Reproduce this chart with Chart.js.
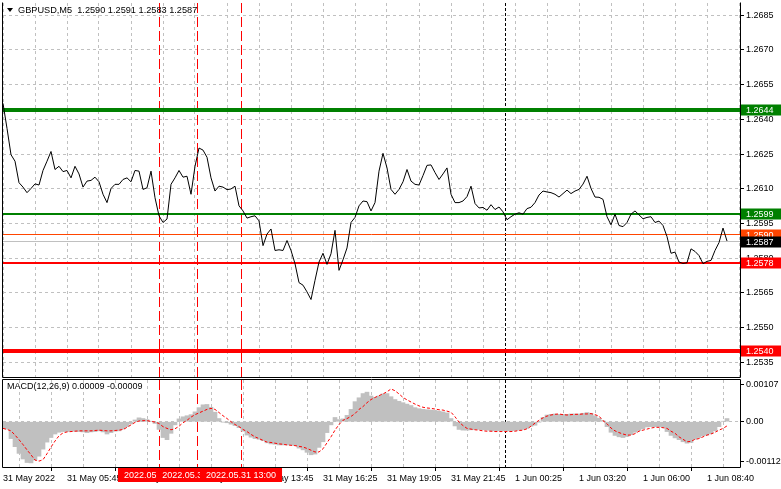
<!DOCTYPE html>
<html>
<head>
<meta charset="utf-8">
<script src="https://cdn.jsdelivr.net/npm/chart.js@4.4.0/dist/chart.umd.min.js"></script>
<style>
html, body { margin: 0; padding: 0; background: #fff; }
#wrap { position: relative; width: 781px; height: 489px; overflow: hidden; background: #fff; }
canvas { position: absolute; left: 0; }
#priceChart { top: 0; }
#macdChart { top: 379px; }
</style>
</head>
<body>
<div id="wrap">
  <canvas id="priceChart" width="781" height="379"></canvas>
  <canvas id="macdChart" width="781" height="110"></canvas>
</div>
<script>
// GBPUSD M5, one value every 2 bars (10 min), first one 31 May 03:05
const priceClose = [
  1.26469, 1.26361, 1.26247, 1.26219, 1.26126, 1.26107, 1.26083, 1.26101, 1.26121, 1.26116,
  1.26179, 1.26219, 1.26261, 1.26183, 1.26197, 1.26174, 1.26179, 1.26147, 1.26197, 1.26164,
  1.26107, 1.26133, 1.26136, 1.26150, 1.26130, 1.26076, 1.26040, 1.26101, 1.26119, 1.26119,
  1.26140, 1.26147, 1.26130, 1.26179, 1.26176, 1.26097, 1.26104, 1.26176, 1.26061, 1.25983,
  1.25954, 1.25969, 1.26119, 1.26147, 1.26179, 1.26150, 1.26154, 1.26076, 1.26197, 1.26276,
  1.26267, 1.26236, 1.26147, 1.26090, 1.26111, 1.26107, 1.26096, 1.26099, 1.26111, 1.26026,
  1.26004, 1.25973, 1.25979, 1.25983, 1.25961, 1.25854, 1.25904, 1.25926, 1.25833, 1.25836,
  1.25833, 1.25876, 1.25833, 1.25776, 1.25694, 1.25683, 1.25654, 1.25621, 1.25704, 1.25783,
  1.25821, 1.25773, 1.25819, 1.25920, 1.25747, 1.25793, 1.25844, 1.25954, 1.25976, 1.26026,
  1.26047, 1.26044, 1.26004, 1.26040, 1.26176, 1.26253, 1.26190, 1.26097, 1.26076, 1.26097,
  1.26130, 1.26183, 1.26133, 1.26119, 1.26116, 1.26157, 1.26201, 1.26203, 1.26170, 1.26140,
  1.26164, 1.26190, 1.26076, 1.26040, 1.26040, 1.26047, 1.26066, 1.26111, 1.26036, 1.26017,
  1.26019, 1.26007, 1.26031, 1.26010, 1.26021, 1.26000, 1.25966, 1.25979, 1.25990, 1.25996,
  1.25990, 1.26014, 1.26020, 1.26040, 1.26073, 1.26090, 1.26086, 1.26083, 1.26076, 1.26064,
  1.26079, 1.26094, 1.26079, 1.26090, 1.26097, 1.26120, 1.26154, 1.26101, 1.26064, 1.26063,
  1.26054, 1.25979, 1.25944, 1.25990, 1.25941, 1.25936, 1.25954, 1.25990, 1.26004, 1.25987,
  1.25970, 1.25976, 1.25979, 1.25954, 1.25960, 1.25941, 1.25893, 1.25821, 1.25826, 1.25783,
  1.25777, 1.25780, 1.25840, 1.25829, 1.25811, 1.25776, 1.25786, 1.25790, 1.25833, 1.25867,
  1.25930, 1.25874
];

const macdHist = [
  -0.00019, -0.00021, -0.00048, -0.00071, -0.00090, -0.00106, -0.00116, -0.00117, -0.00109, -0.00098,
  -0.00078, -0.00058, -0.00045, -0.00035, -0.00030, -0.00028, -0.00028, -0.00027, -0.00027, -0.00028,
  -0.00029, -0.00031, -0.00029, -0.00028, -0.00026, -0.00029, -0.00035, -0.00031, -0.00027, -0.00026,
  -0.00021, -0.00014, -0.00006, 0.00005, 0.00011, 0.00009, 0.00006, 0.00001, -0.00005, -0.00022,
  -0.00045, -0.00051, -0.00033, -0.00009, 0.00008, 0.00014, 0.00017, 0.00020, 0.00028, 0.00040,
  0.00048, 0.00049, 0.00041, 0.00027, 0.00009, -0.00001, -0.00003, -0.00007, -0.00011, -0.00017,
  -0.00027, -0.00038, -0.00044, -0.00048, -0.00050, -0.00054, -0.00060, -0.00063, -0.00064, -0.00066,
  -0.00066, -0.00066, -0.00066, -0.00068, -0.00075, -0.00080, -0.00087, -0.00094, -0.00092, -0.00073,
  -0.00057, -0.00031, -0.00009, 0.00012, 0.00006, 0.00008, 0.00018, 0.00035, 0.00057, 0.00068,
  0.00080, 0.00084, 0.00073, 0.00069, 0.00073, 0.00079, 0.00080, 0.00071, 0.00063, 0.00058,
  0.00054, 0.00050, 0.00046, 0.00040, 0.00037, 0.00035, 0.00034, 0.00033, 0.00032, 0.00030,
  0.00028, 0.00025, 0.00009, -0.00012, -0.00022, -0.00024, -0.00024, -0.00023, -0.00022, -0.00022,
  -0.00023, -0.00024, -0.00026, -0.00026, -0.00026, -0.00026, -0.00026, -0.00026, -0.00025, -0.00024,
  -0.00022, -0.00019, -0.00013, -0.00010, -0.00001, 0.00012, 0.00019, 0.00021, 0.00022, 0.00021,
  0.00021, 0.00021, 0.00022, 0.00022, 0.00022, 0.00024, 0.00026, 0.00024, 0.00017, 0.00010,
  0.00003, -0.00014, -0.00030, -0.00039, -0.00043, -0.00045, -0.00042, -0.00037, -0.00030, -0.00025,
  -0.00020, -0.00015, -0.00014, -0.00014, -0.00014, -0.00016, -0.00028, -0.00039, -0.00046, -0.00051,
  -0.00057, -0.00061, -0.00059, -0.00050, -0.00045, -0.00040, -0.00038, -0.00034, -0.00026, -0.00014,
  0.00001, 0.00009
];

const macdSignal = [
  -0.00019, -0.00022, -0.00026, -0.00038, -0.00051, -0.00065, -0.00080, -0.00094, -0.00109, -0.00112,
  -0.00108, -0.00091, -0.00072, -0.00055, -0.00040, -0.00032, -0.00029, -0.00028, -0.00027, -0.00026,
  -0.00026, -0.00026, -0.00026, -0.00025, -0.00024, -0.00025, -0.00026, -0.00026, -0.00025, -0.00024,
  -0.00022, -0.00016, -0.00009, -0.00002, 0.00002, 0.00003, 0.00003, 0.00001, -0.00001, -0.00005,
  -0.00014, -0.00019, -0.00023, -0.00020, -0.00013, -0.00003, 0.00004, 0.00013, 0.00020, 0.00025,
  0.00030, 0.00035, 0.00038, 0.00035, 0.00026, 0.00017, 0.00009, 0.00000, -0.00008, -0.00014,
  -0.00022, -0.00028, -0.00036, -0.00043, -0.00048, -0.00053, -0.00058, -0.00059, -0.00061, -0.00063,
  -0.00064, -0.00066, -0.00067, -0.00068, -0.00070, -0.00072, -0.00076, -0.00081, -0.00086, -0.00086,
  -0.00077, -0.00060, -0.00043, -0.00024, -0.00008, 0.00004, 0.00009, 0.00015, 0.00023, 0.00035,
  0.00043, 0.00054, 0.00063, 0.00069, 0.00074, 0.00079, 0.00085, 0.00093, 0.00088, 0.00079,
  0.00069, 0.00062, 0.00056, 0.00050, 0.00045, 0.00041, 0.00039, 0.00038, 0.00036, 0.00034,
  0.00033, 0.00030, 0.00027, 0.00014, -0.00001, -0.00011, -0.00019, -0.00021, -0.00023, -0.00024,
  -0.00026, -0.00027, -0.00027, -0.00028, -0.00028, -0.00028, -0.00028, -0.00028, -0.00027, -0.00025,
  -0.00024, -0.00020, -0.00013, -0.00004, 0.00004, 0.00011, 0.00016, 0.00019, 0.00021, 0.00022,
  0.00020, 0.00019, 0.00020, 0.00021, 0.00021, 0.00022, 0.00022, 0.00023, 0.00020, 0.00016,
  0.00003, -0.00006, -0.00018, -0.00026, -0.00031, -0.00035, -0.00038, -0.00038, -0.00034, -0.00027,
  -0.00024, -0.00021, -0.00018, -0.00016, -0.00016, -0.00017, -0.00019, -0.00027, -0.00033, -0.00043,
  -0.00050, -0.00057, -0.00056, -0.00050, -0.00048, -0.00043, -0.00038, -0.00035, -0.00030, -0.00024,
  -0.00019, -0.00012
];

const timeLabels = ['31 May 2022', '31 May 05:45', '31 May 08:25', '31 May 11:05', '31 May 13:45', '31 May 16:25',
  '31 May 19:05', '31 May 21:45', '1 Jun 00:25', '1 Jun 03:20', '1 Jun 06:00', '1 Jun 08:40'];
const priceTicks = [1.2685, 1.2670, 1.2655, 1.2640, 1.2625, 1.2610, 1.2595, 1.2580, 1.2565, 1.2550, 1.2535];
const macdTicks = [0.00107, 0, -0.00112];

const levelPrices = [1.2644, 1.2599, 1.2590, 1.2587, 1.2578, 1.2540];
const levelStyles = [
  { color: '#008000', width: 4, box: '#008000' },
  { color: '#008000', width: 2, box: '#008000' },
  { color: '#ff4500', width: 1, box: '#ff4500' },
  { color: '#c0c0c0', width: 1, box: '#000000' },
  { color: '#ff0000', width: 2, box: '#ff0000' },
  { color: '#ff0000', width: 4, box: '#ff0000' }
];

// vertical lines, minutes from 31 May 00:00
const markerMinutes = [575, 670, 780];
const markerLabels = ['2022.05.31 09:35', '2022.05.31 11:10', '2022.05.31 13:00'];
const daySeparator = 1440;

const titleText = 'GBPUSD,M5  1.2590 1.2591 1.2583 1.2587';
const macdText = 'MACD(12,26,9) 0.00009 -0.00009';

const FONT = '"Liberation Sans", Arial, sans-serif';
const FSIZE = 9;
const GRID = '#c0c0c0';
const X_MAX = 184.25;

Chart.defaults.font.family = FONT;
Chart.defaults.font.size = FSIZE;
Chart.defaults.color = '#000';

function barOfMinute(m) { return (m - 185) / 10; }

function xTicks(axis) {
  axis.ticks = [];
  for (let v = 0; v <= X_MAX; v += 8) axis.ticks.push({ value: v });
}

const markerPlugin = {
  id: 'markers',
  beforeDatasetsDraw(chart) {
    const { ctx, chartArea: a, scales: { x } } = chart;
    ctx.save();
    ctx.lineWidth = 1;
    ctx.strokeStyle = '#ff0000';
    ctx.setLineDash([10, 4]);
    markerMinutes.forEach(m => {
      const px = Math.round(x.getPixelForValue(barOfMinute(m))) + 0.5;
      ctx.beginPath(); ctx.moveTo(px, a.top); ctx.lineTo(px, a.bottom); ctx.stroke();
    });
    ctx.strokeStyle = '#000';
    ctx.setLineDash([3, 2]);
    const sx = Math.round(x.getPixelForValue(barOfMinute(daySeparator))) + 0.5;
    ctx.beginPath(); ctx.moveTo(sx, a.top); ctx.lineTo(sx, a.bottom); ctx.stroke();
    ctx.restore();
  }
};

function frame(chart, withTop) {
  const { ctx, chartArea: a } = chart;
  ctx.save();
  ctx.strokeStyle = '#000';
  ctx.lineWidth = 1;
  ctx.beginPath();
  if (withTop) { ctx.moveTo(2.5, a.top - 0.5); ctx.lineTo(a.right + 0.5, a.top - 0.5); }
  ctx.moveTo(2.5, a.top - 0.5); ctx.lineTo(2.5, a.bottom + 0.5);
  ctx.lineTo(a.right + 0.5, a.bottom + 0.5); ctx.lineTo(a.right + 0.5, a.top - 0.5);
  ctx.stroke();
  ctx.restore();
}

const pricePlugin = {
  id: 'priceExtras',
  beforeDatasetsDraw(chart) {
    const { ctx, chartArea: a, scales: { y } } = chart;
    ctx.save();
    levelPrices.forEach((p, k) => {
      const st = levelStyles[k];
      let py = y.getPixelForValue(p);
      py = st.width % 2 === 1 ? Math.round(py - 0.5) + 0.5 : Math.round(py);
      ctx.strokeStyle = st.color;
      ctx.lineWidth = st.width;
      ctx.beginPath(); ctx.moveTo(a.left, py); ctx.lineTo(a.right, py); ctx.stroke();
    });
    ctx.restore();
  },
  afterDraw(chart) {
    const { ctx, chartArea: a, scales: { y } } = chart;
    frame(chart, false);
    ctx.save();
    ctx.font = FSIZE + 'px ' + FONT;
    ctx.textBaseline = 'middle';
    levelPrices.forEach((p, k) => {
      const py = Math.round(y.getPixelForValue(p));
      ctx.fillStyle = levelStyles[k].box;
      ctx.fillRect(a.right + 1, py - 5.5, 781 - a.right - 1, 11);
      ctx.fillStyle = '#fff';
      ctx.fillText(p.toFixed(4), a.right + 6, py + 0.5);
    });
    // title
    ctx.fillStyle = '#000';
    ctx.beginPath(); ctx.moveTo(7, 8); ctx.lineTo(13, 8); ctx.lineTo(10, 12); ctx.closePath(); ctx.fill();
    ctx.font = '9.2px ' + FONT;
    ctx.fillText(titleText, 18, 10.5);
    ctx.restore();
  }
};

const macdPlugin = {
  id: 'macdExtras',
  afterDraw(chart) {
    const { ctx, chartArea: a, scales: { x } } = chart;
    frame(chart, true);
    ctx.save();
    ctx.font = FSIZE + 'px ' + FONT;
    ctx.textBaseline = 'middle';
    ctx.fillStyle = '#000';
    ctx.fillText(macdText, 7, 7.5);
    markerMinutes.forEach((m, k) => {
      const px = Math.round(x.getPixelForValue(barOfMinute(m)));
      const w = ctx.measureText(markerLabels[k]).width + 12;
      ctx.fillStyle = '#ff0000';
      ctx.fillRect(px - w / 2, a.bottom + 1, w, 14);
      ctx.fillStyle = '#fff';
      ctx.textAlign = 'center';
      ctx.fillText(markerLabels[k], px, a.bottom + 9);
    });
    ctx.restore();
  }
};

new Chart(document.getElementById('priceChart'), {
  type: 'line',
  data: {
    datasets: [{
      data: priceClose.map((v, i) => ({ x: i, y: v })),
      borderColor: '#000',
      borderWidth: 1,
      pointRadius: 0,
      tension: 0,
      fill: false
    }]
  },
  options: {
    responsive: false,
    animation: false,
    devicePixelRatio: 1,
    events: [],
    layout: { padding: { left: 3, top: 3, right: 0, bottom: 2 } },
    plugins: { legend: { display: false }, tooltip: { enabled: false } },
    scales: {
      x: {
        type: 'linear', min: 0, max: X_MAX,
        afterBuildTicks: xTicks,
        afterFit(s) { s.height = 0; s.paddingLeft = 0; s.paddingRight = 0; },
        ticks: { display: false },
        grid: { color: GRID, lineWidth: 1, drawTicks: false },
        border: { display: false, dash: [3, 3] }
      },
      y: {
        position: 'right',
        min: 1.25286, max: 1.26903,
        afterBuildTicks(axis) { axis.ticks = priceTicks.map(v => ({ value: v })); },
        afterFit(s) { s.width = 41; s.paddingTop = 0; s.paddingBottom = 0; },
        ticks: { padding: 2, callback: v => v.toFixed(4), autoSkip: false, font: { size: FSIZE } },
        grid: { color: GRID, lineWidth: 1, tickLength: 4, tickColor: '#000' },
        border: { display: false, dash: [3, 3] }
      }
    }
  },
  plugins: [markerPlugin, pricePlugin]
});

new Chart(document.getElementById('macdChart'), {
  type: 'bar',
  data: {
    datasets: [
      {
        type: 'line',
        data: macdSignal.map((v, i) => ({ x: i, y: v })),
        borderColor: '#ff0000',
        borderWidth: 1,
        borderDash: [3, 2],
        pointRadius: 0,
        tension: 0,
        fill: false,
        order: 0
      },
      {
        type: 'bar',
        data: macdHist.map((v, i) => ({ x: i, y: v })),
        backgroundColor: '#c0c0c0',
        borderWidth: 0,
        barPercentage: 1,
        categoryPercentage: 1,
        order: 1
      }
    ]
  },
  options: {
    responsive: false,
    animation: false,
    devicePixelRatio: 1,
    events: [],
    layout: { padding: { left: 3, top: 1, right: 0, bottom: 0 } },
    plugins: { legend: { display: false }, tooltip: { enabled: false } },
    scales: {
      x: {
        type: 'linear', min: 0, max: X_MAX,
        offset: false,
        afterBuildTicks: xTicks,
        afterFit(s) { s.height = 22; s.paddingLeft = 0; s.paddingRight = 0; },
        ticks: {
          align: 'start', padding: 2, maxRotation: 0, autoSkip: false,
          callback: v => (v % 16 === 0 ? timeLabels[v / 16] : '')
        },
        grid: {
          color: GRID, lineWidth: 1, tickLength: 4,
          tickColor: c => (c.tick && c.tick.value % 16 === 0 ? '#000' : 'rgba(0,0,0,0)')
        },
        border: { display: false, dash: [3, 3] }
      },
      y: {
        position: 'right',
        min: -0.001287, max: 0.001185,
        afterBuildTicks(axis) { axis.ticks = macdTicks.map(v => ({ value: v })); },
        afterFit(s) { s.width = 41; s.paddingTop = 0; s.paddingBottom = 0; },
        ticks: { padding: 2, autoSkip: false, callback: v => (v === 0 ? '0.00' : v.toFixed(5)) },
        grid: {
          color: c => (c.tick && c.tick.value === 0 ? GRID : 'rgba(0,0,0,0)'),
          lineWidth: 1, tickLength: 4, tickColor: '#000'
        },
        border: { display: false, dash: [3, 3] }
      }
    }
  },
  plugins: [markerPlugin, macdPlugin]
});
</script>
</body>
</html>
